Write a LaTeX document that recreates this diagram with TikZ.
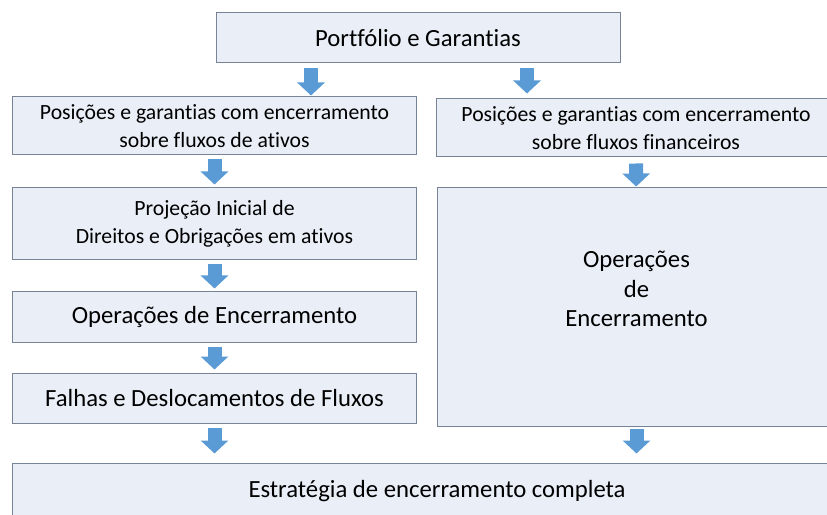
\documentclass[tikz,border=0pt]{standalone}
\usepackage{fontspec}
\setmainfont{Carlito}[Ligatures={NoCommon,NoContextual,NoRare},Contextuals=NoAlternate]
\usetikzlibrary{arrows.meta}
\definecolor{boxfill}{RGB}{233,238,247}
\definecolor{boxedge}{RGB}{118,132,150}
\definecolor{arrblue}{RGB}{91,155,213}
\tikzset{
  stage/.style={draw=boxedge,fill=boxfill,line width=1bp,inner sep=0pt,align=center,font=\fontsize{24.8}{30}\selectfont},
  substage/.style={stage,font=\fontsize{21.8}{27.5}\selectfont},
  blockarr/.style={-{Triangle[length=13bp,width=27bp]},line width=14bp,draw=arrblue},
}
\begin{document}
\begin{tikzpicture}[x=1bp,y=-1bp]
  \useasboundingbox (0,0) rectangle (827,515);
  \clip (0,0) rectangle (827,515);
  \node[stage,minimum width=404bp,minimum height=50bp] (top) at (418,38) {Portfólio e Garantias};
  % left branch
  \node[substage,minimum width=403bp,minimum height=58bp] (posA) at (214.5,126) {Posições e garantias com encerramento\\sobre fluxos de ativos};
  \node[substage,minimum width=403bp,minimum height=72bp] (projA) at (214.5,224) {Projeção Inicial de\\Direitos e Obrigações em ativos};
  \node[stage,minimum width=403bp,minimum height=50bp] (operA) at (214.5,317) {Operações de Encerramento};
  \node[stage,minimum width=403bp,minimum height=50bp] (falhas) at (214.5,398) {Falhas e Deslocamentos de Fluxos};
  % right branch
  \node[substage,minimum width=400bp,minimum height=58bp] (posB) at (636,128) {Posições e garantias com encerramento\\sobre fluxos financeiros};
  \node[stage,minimum width=399bp,minimum height=238bp] (operB) at (636.5,307) {};
  \node[font=\fontsize{24.8}{29.5}\selectfont,align=center] (operBtext) at (636.5,289) {Operações\\de\\Encerramento};
  \node[stage,minimum width=848bp,minimum height=56bp] (final) at (437,491) {Estratégia de encerramento completa};
  % arrows
  \coordinate (splitA) at ([xshift=-107bp]top.south);
  \coordinate (splitB) at ([xshift=109bp]top.south);
  \draw[blockarr,shorten <=5bp,shorten >=1bp] (splitA) -- (splitA |- posA.north);
  \draw[blockarr,shorten <=5bp,shorten >=5bp] (splitB) -- (splitB |- posB.north);
  \foreach \a/\b in {posA/projA,projA/operA,operA/falhas}
    \draw[blockarr,shorten <=4bp,shorten >=3bp] (\a) -- (\b);
  \draw[blockarr,shorten <=4bp,shorten >=9bp] (falhas.south) -- (falhas.south |- final.north);
  \draw[blockarr,shorten <=6bp,shorten >=1bp] (posB) -- (operB);
  \draw[blockarr,shorten <=2bp,shorten >=9bp] (operB.south) -- (operB.south |- final.north);
\end{tikzpicture}
\end{document}
